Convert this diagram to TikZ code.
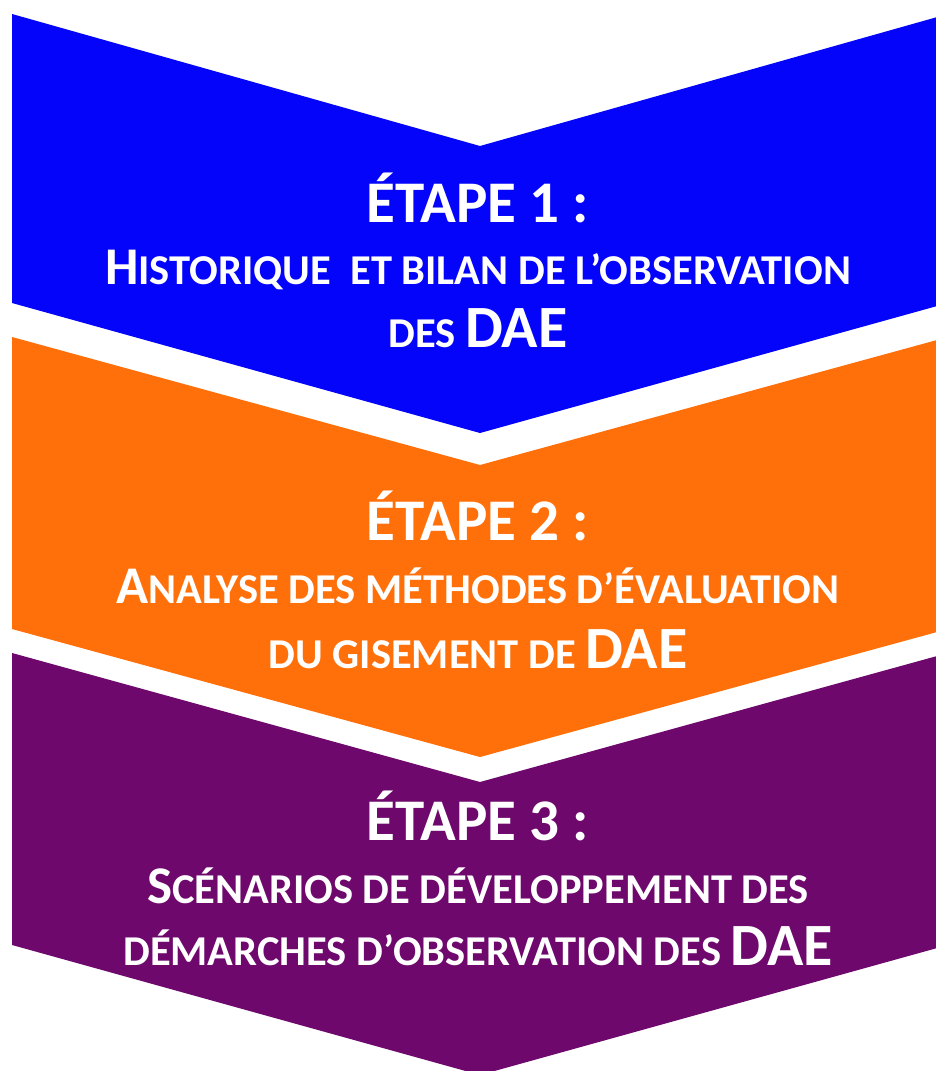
\documentclass[tikz,border=0pt]{standalone}
\usepackage{fontspec}
\newfontfamily\stepfont{Carlito}
\definecolor{stepblue}{RGB}{4,4,250}
\definecolor{steporange}{RGB}{255,112,10}
\definecolor{steppurple}{RGB}{110,8,108}
\newcommand\Tt[1]{{\fontsize{59}{59}\selectfont #1}}
\newcommand\Bg[1]{{\fontsize{53}{53}\selectfont #1}}
\newcommand\Sm[1]{{\fontsize{42.5}{42.5}\selectfont #1}}
\newcommand\Dae[1]{{\fontsize{60}{60}\selectfont #1}}
\tikzset{
  chevron/.style={draw=none},
  steptext/.style={text=white, font=\stepfont\bfseries, inner sep=0pt, anchor=base},
}
\begin{document}
\begin{tikzpicture}[x=1pt,y=-1pt]
\useasboundingbox (0,0) rectangle (936,1071);
\fill[white] (0,0) rectangle (936,1071);
% chevrons
\fill[chevron, stepblue] (12,14) -- (480,146) -- (948,14) -- (948,303) -- (480,433) -- (12,303) -- cycle;
\fill[chevron, steporange] (12,337) -- (480,465) -- (948,337) -- (948,629) -- (480,757) -- (12,629) -- cycle;
\fill[chevron, steppurple] (12,653) -- (480,782) -- (948,653) -- (948,945) -- (480,1075) -- (12,945) -- cycle;
% texts
\node[steptext] (s1a) at (478,222) {\Tt{ÉTAPE 1 :}};
\node[steptext] (s1b) at (478,284) {\Bg{H}\Sm{ISTORIQUE \ ET BILAN DE L’OBSERVATION}};
\node[steptext] (s1c) at (478,347) {\Sm{DES }\Dae{DAE}};
\node[steptext] (s2a) at (478,540) {\Tt{ÉTAPE 2 :}};
\node[steptext] (s2b) at (478,603) {\Bg{A}\Sm{NALYSE DES MÉTHODES D’ÉVALUATION}};
\node[steptext] (s2c) at (478,668) {\Sm{DU GISEMENT DE }\Dae{DAE}};
\node[steptext] (s3a) at (478,840) {\Tt{ÉTAPE 3 :}};
\node[steptext] (s3b) at (478,903) {\Bg{S}\Sm{CÉNARIOS DE DÉVELOPPEMENT DES}};
\node[steptext] (s3c) at (478,965) {\Sm{DÉMARCHES D’OBSERVATION DES }\Dae{DAE}};
\end{tikzpicture}
\end{document}
